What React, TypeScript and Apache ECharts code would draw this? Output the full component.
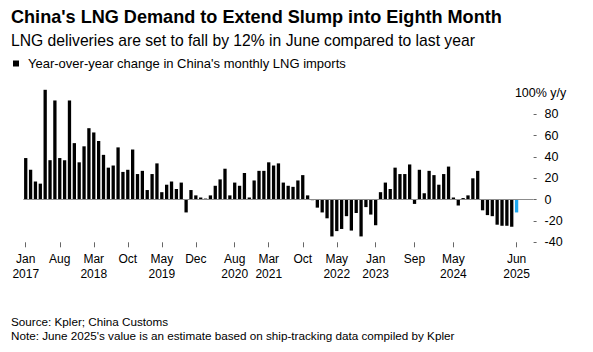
import React, { useEffect, useRef } from 'react';
import * as echarts from 'echarts';

// Year-over-year change in China's monthly LNG imports, Jan 2017 .. Jun 2025 (%)
const startYear = 2017;
const yoyChange = [
  39, 28, 17, 15, 103, 37, 93, 39, 37, 93, 53, 35,
  50, 67, 63, 55, 42, 30, 32, 49, 26, 28, 47, 24,
  27, 9, 24, 34, 7, 14, 17, 10, 16, -12, 9, 4,
  2, 1, 4, 13, 19, 29, 4, 16, 13, 25, 2, 18,
  27, 27, 35, 32, 34, 16, 13, 12, 18, 23, 4, -0.5,
  -7.5, -12, -17.5, -34.5, -29.5, -27.5, -15.5, -29, -12.5, -34.5, -7, -14,
  -24, 7, 16, 10, 30, 24, 24, 33, -4, 28, 6, 27,
  23, 14, 24, 31, 2, -5.5, 1.5, 4, 20, 27, -10, -14.5,
  -15.5, -23.5, -24.5, -24.5, -25.5, -12,
];
const estimateIndex = 101; // June 2025 (estimate)

const xTickIndices = [0, 7, 14, 21, 28, 35, 43, 50, 57, 64, 72, 80, 88, 101];
const xTickLabels = [
  'Jan\n2017', 'Aug', 'Mar\n2018', 'Oct', 'May\n2019', 'Dec', 'Aug\n2020',
  'Mar\n2021', 'Oct', 'May\n2022', 'Jan\n2023', 'Sep', 'May\n2024', 'Jun\n2025',
];
const yTicks = [-40, -20, 0, 20, 40, 60, 80];

const titleText = "China's LNG Demand to Extend Slump into Eighth Month";
const subtitleText = 'LNG deliveries are set to fall by 12% in June compared to last year';
const legendText = "Year-over-year change in China's monthly LNG imports";
const footerText =
  "Source: Kpler; China Customs\nNote: June 2025's value is an estimate based on ship-tracking data compiled by Kpler";

const FONT = "'Liberation Sans', Arial, Helvetica, sans-serif";

export default function App() {
  const ref = useRef<HTMLDivElement>(null);

  useEffect(() => {
    if (!ref.current) return;
    const chart = echarts.init(ref.current, undefined, { renderer: 'svg' });

    const data = yoyChange.map((v, i) => ({
      value: [i, v],
      itemStyle: i === estimateIndex ? { color: '#1ea7f0' } : undefined,
    }));

    chart.setOption({
      animation: false,
      backgroundColor: '#fff',
      textStyle: { fontFamily: FONT },
      title: [
        {
          text: titleText,
          left: 11,
          top: 5.7,
          padding: 0,
          textStyle: { fontSize: 18.1, fontWeight: 'bold', color: '#000', lineHeight: 22, fontFamily: FONT },
        },
        {
          text: subtitleText,
          left: 11,
          top: 31.8,
          padding: 0,
          textStyle: { fontSize: 15.7, fontWeight: 'normal', color: '#000', lineHeight: 18, fontFamily: FONT },
        },
        {
          text: footerText,
          left: 11,
          top: 314,
          padding: 0,
          textStyle: { fontSize: 11.7, fontWeight: 'normal', color: '#000', lineHeight: 14, fontFamily: FONT },
        },
      ],
      legend: {
        left: 13,
        top: 56.5,
        padding: 0,
        itemWidth: 6,
        itemHeight: 6,
        icon: 'rect',
        data: [legendText],
        textStyle: { fontSize: 13, color: '#000', lineHeight: 14, padding: [0, 0, 0, 4], fontFamily: FONT },
      },
      grid: { left: 23.3, right: 59.4, top: 93, bottom: 109.7 },
      xAxis: {
        type: 'value',
        min: -0.5,
        max: 104.5,
        splitLine: { show: false },
        axisLine: { show: false, onZero: false },
        axisTick: {
          show: true,
          customValues: xTickIndices,
          length: 5,
          lineStyle: { color: '#666', width: 1 },
        },
        axisLabel: {
          show: true,
          customValues: xTickIndices,
          margin: 10,
          fontSize: 12,
          lineHeight: 14.3,
          color: '#000',
          fontFamily: FONT,
          formatter: (v: number) => {
            const k = xTickIndices.indexOf(Math.round(v));
            return k >= 0 ? xTickLabels[k] : '';
          },
        },
      },
      yAxis: {
        type: 'value',
        position: 'right',
        min: -40,
        max: 100,
        interval: 20,
        splitLine: { show: false },
        axisLine: { show: false, onZero: false },
        name: '100% y/y',
        nameLocation: 'end',
        nameGap: 0,
        nameTextStyle: {
          fontSize: 12.5,
          color: '#000',
          align: 'center',
          verticalAlign: 'middle',
          padding: [0, 0, 0, 14],
          fontFamily: FONT,
        },
        axisTick: {
          show: true,
          customValues: yTicks,
          length: 3,
          lineStyle: { color: '#666', width: 1 },
        },
        axisLabel: {
          show: true,
          customValues: yTicks,
          margin: 11,
          fontSize: 12.5,
          color: '#000',
          align: 'left',
          fontFamily: FONT,
        },
      },
      series: [
        {
          name: legendText,
          type: 'bar',
          data,
          barWidth: 3.3,
          clip: false,
          itemStyle: { color: '#000' },
          markLine: {
            silent: true,
            symbol: 'none',
            label: { show: false },
            lineStyle: { color: '#8c8c8c', width: 1, type: 'solid' },
            data: [{ yAxis: 0 }],
          },
        },
      ],
    });

    return () => chart.dispose();
  }, []);

  return (
    <div
      ref={ref}
      style={{ position: 'fixed', left: 0, top: 0, width: 593, height: 352, background: '#fff' }}
    />
  );
}
